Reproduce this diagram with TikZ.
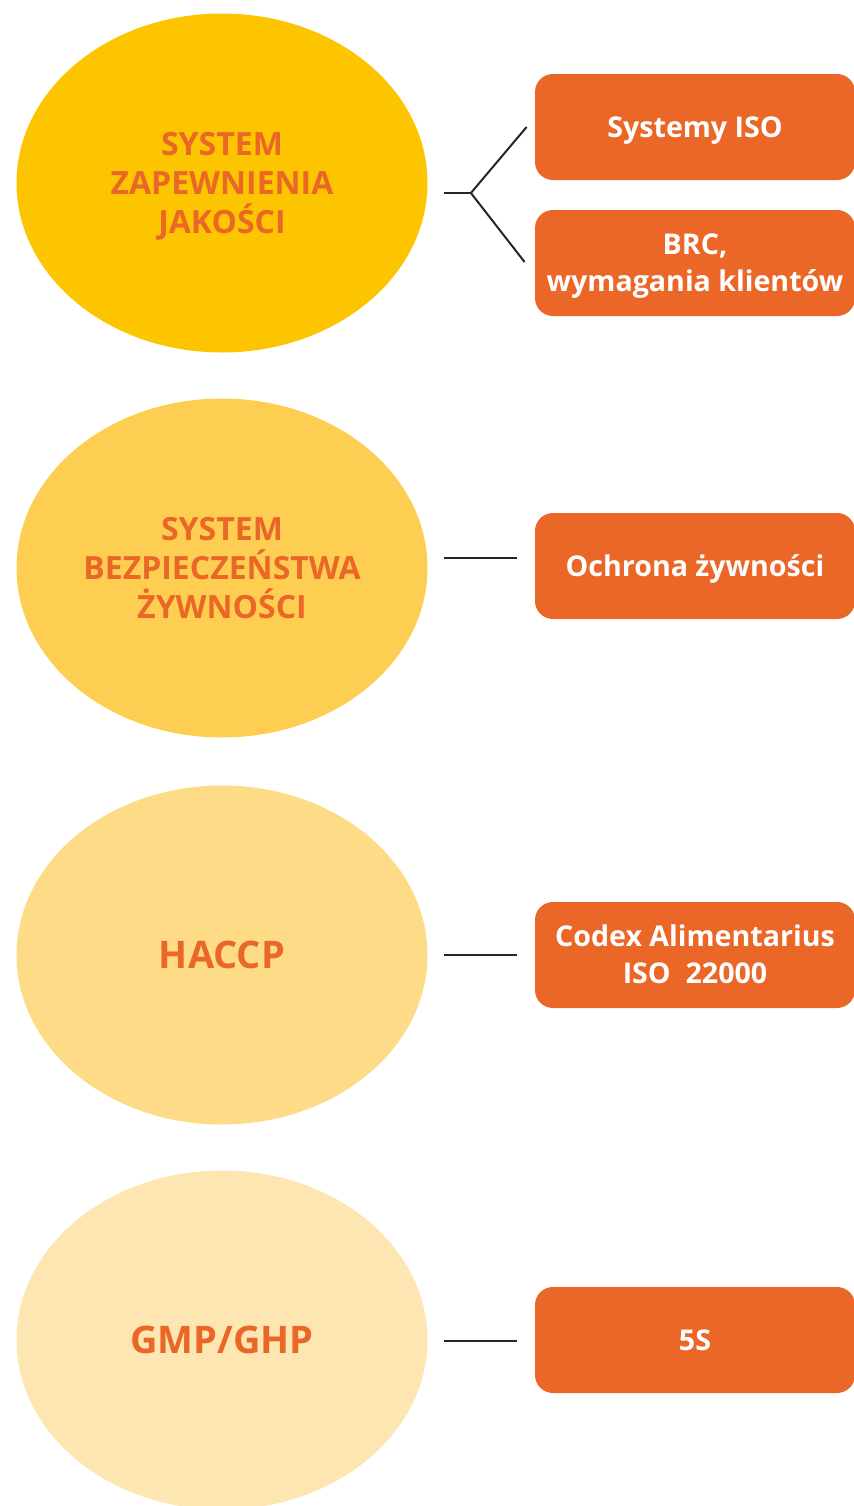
\documentclass[tikz,border=0pt]{standalone}
\usepackage{fontspec}
\setmainfont{Open Sans}
\usetikzlibrary{shapes.geometric, calc}

\definecolor{zapewnienie}{HTML}{FCC500}
\definecolor{bezpieczenstwo}{HTML}{FECE52}
\definecolor{haccp}{HTML}{FDDB87}
\definecolor{gmp}{HTML}{FDE6B1}
\definecolor{pomarancz}{HTML}{EA6727}

% niewidoczne rozporki, zeby tekst siedzial na srodku wersalikow
\newcommand{\gora}{\rule{0pt}{1em}}
\newcommand{\dol}{\rule[-0.286em]{0pt}{0pt}}

\tikzset{
    system/.style={ellipse, inner sep=0pt, minimum width=205.5pt, minimum height=169.5pt,
        align=center, text=pomarancz, font=\bfseries\fontsize{16}{19.3}\selectfont},
    narzedzie/.style={rectangle, rounded corners=9pt, fill=pomarancz, text=white,
        inner sep=0pt, minimum width=160pt, minimum height=53pt, align=center,
        font=\bfseries\fontsize{14.3}{18.5}\selectfont},
    laczenie/.style={line width=1pt, black!85}
}

\begin{document}
\begin{tikzpicture}[x=0.5pt, y=-0.5pt]
        \useasboundingbox (0,0) rectangle (854,1506);

        % piramida systemow
        \node[system, fill=zapewnienie] (zsj) at (222,183) {\gora SYSTEM\\ZAPEWNIENIA\\JAKOŚCI\dol};
        \node[system, fill=bezpieczenstwo] (sbz) at (222,568) {\gora SYSTEM\\BEZPIECZEŃSTWA\\ŻYWNOŚCI\dol};
        \node[system, fill=haccp, font=\bfseries\fontsize{19}{22}\selectfont] (haccp) at (222,955) {\gora HACCP\dol};
        \node[system, fill=gmp, font=\bfseries\fontsize{19}{22}\selectfont] (gmp) at (222,1340) {\gora GMP/GHP\dol};

        % narzedzia po prawej
        \node[narzedzie] (iso) at (695,127) {\gora Systemy ISO\dol};
        \node[narzedzie] (brc) at (695,263) {\gora BRC,\\wymagania klientów\dol};
        \node[narzedzie] (ochrona) at (695,566) {\gora Ochrona żywności\dol};
        \node[narzedzie] (codex) at (695,955) {\gora Codex Alimentarius\\ISO\ \ 22000\dol};
        \node[narzedzie] (piec) at (695,1340) {\gora 5S\dol};

        % laczniki
        \coordinate (rozwidlenie) at ($(zsj.east)+(43,10)$);
        \draw[laczenie] ($(zsj.east)+(16,10)$) -- (rozwidlenie);
        \draw[laczenie] (rozwidlenie) -- ($(iso.west)+(-8,0)$);
        \draw[laczenie] (rozwidlenie) -- ($(brc.west)+(-10,-1)$);
        \draw[laczenie] ($(sbz.east)+(16,-10)$) -- ($(ochrona.west)+(-18,-8)$);
        \draw[laczenie] ($(haccp.east)+(16,0)$) -- ($(codex.west)+(-18,0)$);
        \draw[laczenie] ($(gmp.east)+(16,1)$) -- ($(piec.west)+(-18,1)$);
\end{tikzpicture}
\end{document}
